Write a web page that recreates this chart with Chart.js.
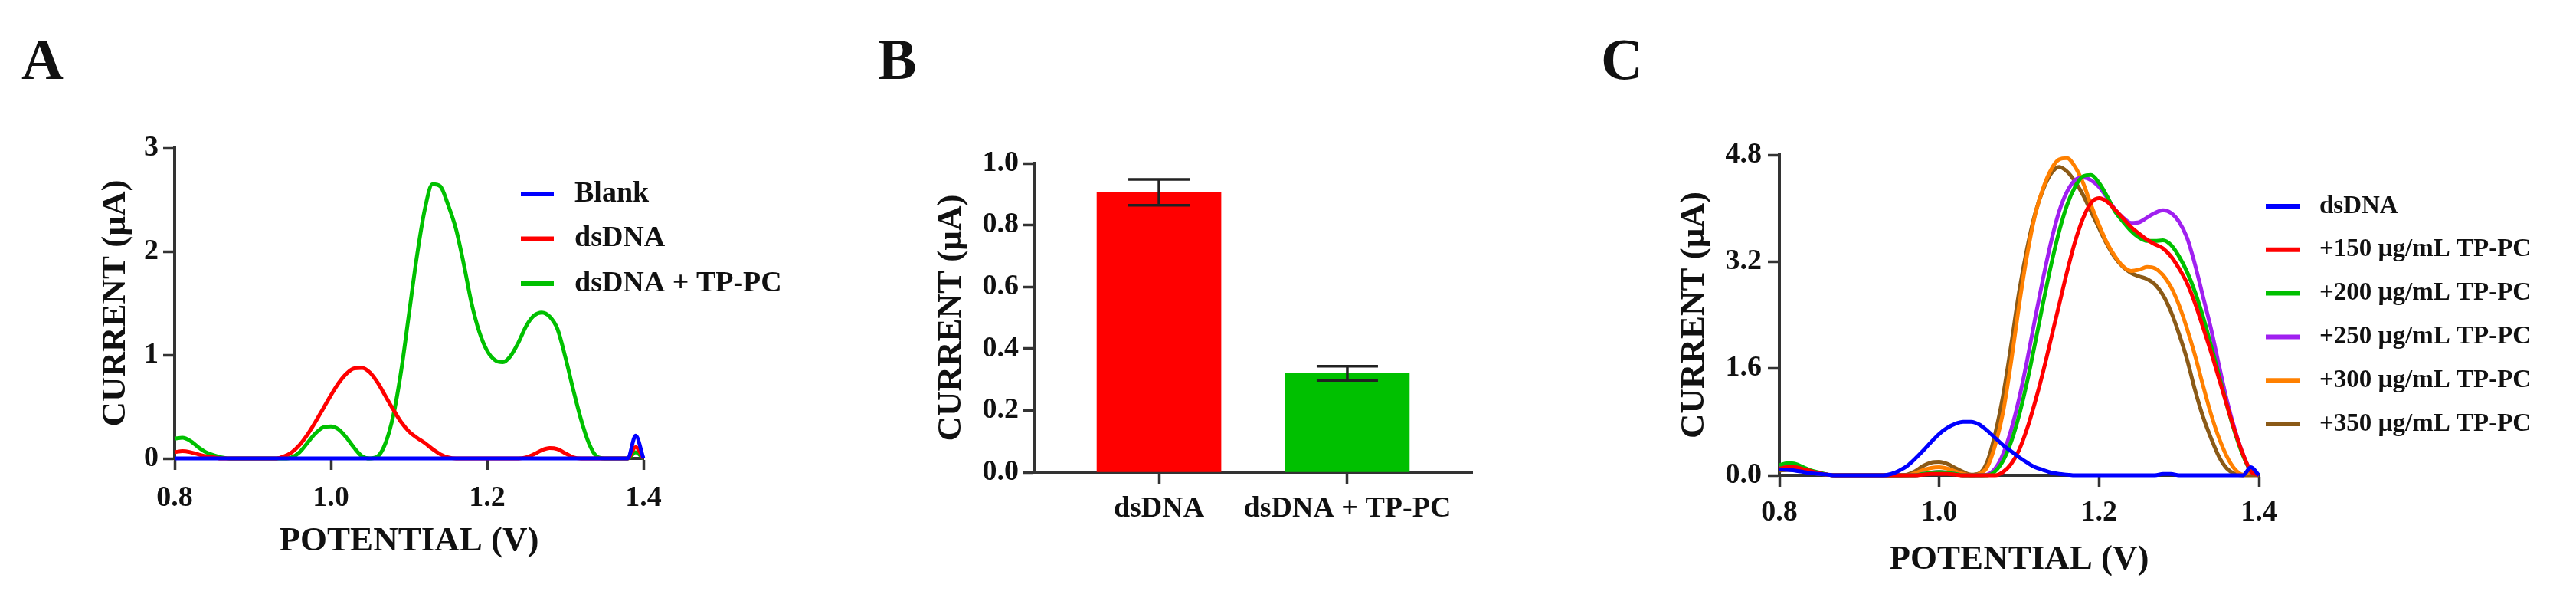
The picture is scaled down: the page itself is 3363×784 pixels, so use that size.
<!DOCTYPE html>
<html>
<head>
<meta charset="utf-8">
<script src="https://cdn.jsdelivr.net/npm/chart.js@4.4.1/dist/chart.umd.min.js"></script>
<style>
  html, body { margin: 0; padding: 0; background: #fff; }
  #wrap { position: relative; width: 3363px; height: 784px; overflow: hidden; background: #fff; }
  #wrap canvas { position: absolute; top: 0; }
  .tag { position: absolute; top: 39px; font: bold 76px/76px "Liberation Serif", "Times New Roman", serif; color: #111; }
</style>
</head>
<body>
<div id="wrap">
  <canvas id="chartA" width="1060" height="784" style="left:0px"></canvas>
  <canvas id="chartB" width="940" height="784" style="left:1060px"></canvas>
  <canvas id="chartC" width="1363" height="784" style="left:2000px"></canvas>
  <div class="tag" style="left:28px">A</div>
  <div class="tag" style="left:1146px">B</div>
  <div class="tag" style="left:2090px">C</div>
</div>
<script>
const SERIF = '"Liberation Serif", "Times New Roman", serif';
const INK = '#111';
const AXIS = '#333';

// potential grid (V), shared by panels A and C
const potential = [
  0.80, 0.81, 0.82, 0.83, 0.84, 0.85, 0.86, 0.87, 0.88, 0.89,
  0.90, 0.91, 0.92, 0.93, 0.94, 0.95, 0.96, 0.97, 0.98, 0.99,
  1.00, 1.01, 1.02, 1.03, 1.04, 1.05, 1.06, 1.07, 1.08, 1.09,
  1.10, 1.11, 1.12, 1.13, 1.14, 1.15, 1.16, 1.17, 1.18, 1.19,
  1.20, 1.21, 1.22, 1.23, 1.24, 1.25, 1.26, 1.27, 1.28, 1.29,
  1.30, 1.31, 1.32, 1.33, 1.34, 1.35, 1.36, 1.37, 1.38, 1.39,
  1.40
];

// panel A - current (uA)
const blankA = [
  0, 0, 0, 0, 0, 0, 0, 0, 0, 0,
  0, 0, 0, 0, 0, 0, 0, 0, 0, 0,
  0, 0, 0, 0, 0, 0, 0, 0, 0, 0,
  0, 0, 0, 0, 0, 0, 0, 0, 0, 0,
  0, 0, 0, 0, 0, 0, 0, 0, 0, 0,
  0, 0, 0, 0, 0, 0, 0, 0, 0, 0.22,
  0
];
const dsdnaA = [
  0.06, 0.07, 0.06, 0.04, 0.02, 0.01, 0, 0, 0, 0,
  0, 0, 0, 0, 0.02, 0.06, 0.13, 0.23, 0.35, 0.48,
  0.61, 0.73, 0.82, 0.87, 0.875, 0.83, 0.73, 0.60, 0.47, 0.35,
  0.26, 0.20, 0.15, 0.09, 0.04, 0.01, 0, 0, 0, 0,
  0, 0, 0, 0, 0, 0.01, 0.04, 0.08, 0.10, 0.09,
  0.05, 0.01, 0, 0, 0, 0, 0, 0, 0, 0.11,
  0
];
const tppcA = [
  0.19, 0.20, 0.17, 0.11, 0.06, 0.03, 0.01, 0, 0, 0,
  0, 0, 0, 0, 0, 0.01, 0.06, 0.15, 0.24, 0.30,
  0.31, 0.28, 0.20, 0.10, 0.02, 0, 0.02, 0.15, 0.42, 0.85,
  1.40, 1.95, 2.40, 2.65, 2.63, 2.45, 2.22, 1.88, 1.50, 1.22,
  1.04, 0.95, 0.93, 0.99, 1.12, 1.28, 1.38, 1.41, 1.37, 1.25,
  0.98, 0.67, 0.38, 0.15, 0.02, 0, 0, 0, 0, 0.06,
  0
];
const xTicksV = [0.8, 1.0, 1.2, 1.4];
const yTicksA = [0, 1, 2, 3];

// panel B - peak current
const barLabels = ['dsDNA', 'dsDNA + TP-PC'];
const barMeans = [0.906, 0.320];
const barErrors = [0.042, 0.023];
const yTicksB = [0, 0.2, 0.4, 0.6, 0.8, 1.0];

// panel C - current (uA)
const dsdnaC = [
  0.09, 0.08, 0.07, 0.05, 0.03, 0.02, 0.01, 0, 0, 0,
  0, 0, 0, 0, 0.02, 0.07, 0.14, 0.25, 0.37, 0.50,
  0.62, 0.71, 0.77, 0.80, 0.80, 0.76, 0.67, 0.56, 0.45, 0.36,
  0.27, 0.19, 0.12, 0.08, 0.04, 0.02, 0.01, 0, 0, 0,
  0, 0, 0, 0, 0, 0, 0, 0, 0.02, 0.02,
  0, 0, 0, 0, 0, 0, 0, 0, 0, 0.12,
  0
];
const tp150C = [
  0.10, 0.12, 0.12, 0.09, 0.06, 0.03, 0.01, 0, 0, 0,
  0, 0, 0, 0, 0, 0, 0, 0, 0.01, 0.02,
  0.02, 0.02, 0.01, 0, 0, 0, 0, 0, 0.05, 0.17,
  0.38, 0.70, 1.10, 1.55, 2.05, 2.55, 3.05, 3.50, 3.85, 4.08,
  4.15, 4.10, 3.98, 3.85, 3.72, 3.62, 3.53, 3.46, 3.40, 3.28,
  3.10, 2.88, 2.58, 2.22, 1.85, 1.45, 1.05, 0.66, 0.32, 0.06,
  0
];
const tp200C = [
  0.15, 0.18, 0.17, 0.12, 0.07, 0.04, 0.01, 0, 0, 0,
  0, 0, 0, 0, 0, 0, 0, 0, 0.02, 0.04,
  0.05, 0.04, 0.02, 0, 0, 0, 0, 0.06, 0.22, 0.50,
  0.90, 1.40, 1.98, 2.58, 3.15, 3.65, 4.05, 4.32, 4.48, 4.50,
  4.38, 4.18, 3.95, 3.80, 3.66, 3.56, 3.51, 3.51, 3.52, 3.45,
  3.28, 3.05, 2.75, 2.38, 1.95, 1.50, 1.05, 0.64, 0.30, 0.06,
  0
];
const tp250C = [
  0.12, 0.14, 0.13, 0.10, 0.06, 0.03, 0.01, 0, 0, 0,
  0, 0, 0, 0, 0, 0, 0, 0, 0.02, 0.04,
  0.05, 0.04, 0.02, 0, 0, 0, 0.01, 0.10, 0.32, 0.68,
  1.15, 1.72, 2.35, 2.95, 3.50, 3.95, 4.25, 4.42, 4.46, 4.42,
  4.32, 4.16, 3.98, 3.86, 3.78, 3.79, 3.86, 3.93, 3.97, 3.93,
  3.80, 3.56, 3.16, 2.68, 2.20, 1.65, 1.12, 0.68, 0.32, 0.06,
  0
];
const tp300C = [
  0.10, 0.11, 0.10, 0.07, 0.04, 0.02, 0.01, 0, 0, 0,
  0, 0, 0, 0, 0, 0, 0, 0.03, 0.08, 0.11,
  0.12, 0.10, 0.06, 0.02, 0, 0.02, 0.12, 0.45, 0.95, 1.70,
  2.55, 3.30, 3.90, 4.30, 4.58, 4.73, 4.75, 4.62, 4.38, 4.05,
  3.75, 3.48, 3.28, 3.13, 3.06, 3.08, 3.12, 3.10, 3.00, 2.82,
  2.55, 2.20, 1.80, 1.35, 0.92, 0.56, 0.28, 0.09, 0.01, 0.05,
  0
];
const tp350C = [
  0.07, 0.08, 0.08, 0.06, 0.04, 0.02, 0.01, 0, 0, 0,
  0, 0, 0, 0, 0, 0, 0.01, 0.06, 0.14, 0.19,
  0.20, 0.17, 0.11, 0.05, 0.01, 0.03, 0.20, 0.62, 1.20, 1.95,
  2.75, 3.40, 3.92, 4.28, 4.52, 4.62, 4.55, 4.40, 4.20, 3.95,
  3.70, 3.46, 3.26, 3.12, 3.03, 2.98, 2.94, 2.86, 2.70, 2.45,
  2.12, 1.74, 1.28, 0.88, 0.56, 0.28, 0.10, 0.02, 0, 0,
  0
];
const yTicksC = [0, 1.6, 3.2, 4.8];

Chart.defaults.font.family = SERIF;
Chart.defaults.color = INK;

function line(label, values, color) {
  return {
    label,
    data: potential.map((p, i) => ({ x: p, y: values[i] })),
    borderColor: color,
    backgroundColor: color,
    borderWidth: 5,
    pointRadius: 0,
    cubicInterpolationMode: 'monotone',
    fill: false,
    clip: false
  };
}

// one axis: fixed ticks, fixed box size, outward tick marks
function axis(o) {
  return {
    type: 'linear',
    min: o.min,
    max: o.max,
    offset: false,
    bounds: 'data',
    border: { display: true, color: AXIS, width: 4 },
    grid: { display: true, offset: false, drawOnChartArea: false, drawTicks: true, tickLength: 15, tickWidth: 3.5, tickColor: AXIS },
    ticks: {
      color: INK,
      font: { size: 38, weight: 'bold' },
      padding: o.pad,
      autoSkip: false,
      maxRotation: 0,
      minRotation: 0,
      callback: o.fmt
    },
    title: o.title
      ? { display: true, text: o.title, color: INK, font: { size: 45, weight: 'bold', lineHeight: 1.2 }, padding: o.titlePad }
      : { display: false },
    afterBuildTicks: s => { s.ticks = o.ticks.map(v => ({ value: v })); },
    afterFit: s => {
      if (s.isHorizontal()) s.height = o.size; else s.width = o.size;
      s.paddingTop = s.paddingBottom = s.paddingLeft = s.paddingRight = 0;
    }
  };
}

const lineLegend = {
  id: 'lineLegend',
  afterDraw(chart, args, opts) {
    const ctx = chart.ctx;
    ctx.save();
    ctx.font = 'bold ' + opts.size + 'px ' + SERIF;
    ctx.textBaseline = 'middle';
    ctx.fillStyle = INK;
    chart.data.datasets.forEach((ds, i) => {
      const y = opts.y + i * opts.gap;
      ctx.strokeStyle = ds.borderColor;
      ctx.lineWidth = 6;
      ctx.beginPath();
      ctx.moveTo(opts.x, y);
      ctx.lineTo(opts.x + opts.len, y);
      ctx.stroke();
      ctx.fillText(ds.label, opts.x + opts.len + opts.textGap, y);
    });
    ctx.restore();
  }
};

const errorBars = {
  id: 'errorBars',
  afterDatasetsDraw(chart, args, opts) {
    const { ctx, scales: { x, y } } = chart;
    ctx.save();
    ctx.strokeStyle = opts.color;
    ctx.lineWidth = opts.width;
    barMeans.forEach((m, i) => {
      const cx = x.getPixelForValue(i);
      const hi = y.getPixelForValue(m + barErrors[i]);
      const lo = y.getPixelForValue(m - barErrors[i]);
      const h = opts.cap / 2;
      ctx.beginPath();
      ctx.moveTo(cx, hi); ctx.lineTo(cx, lo);
      ctx.moveTo(cx - h, hi); ctx.lineTo(cx + h, hi);
      ctx.moveTo(cx - h, lo); ctx.lineTo(cx + h, lo);
      ctx.stroke();
    });
    ctx.restore();
  }
};

const common = {
  responsive: false,
  animation: false,
  devicePixelRatio: 1,
  events: []
};

new Chart(document.getElementById('chartA'), {
  type: 'line',
  data: {
    datasets: [
      line('Blank', blankA, '#0000ff'),
      line('dsDNA', dsdnaA, '#ff0000'),
      line('dsDNA + TP-PC', tppcA, '#00c000')
    ]
  },
  options: {
    ...common,
    layout: { padding: { left: 0, top: 193, right: 220, bottom: 0 } },
    plugins: {
      legend: { display: false },
      tooltip: { enabled: false },
      lineLegend: { x: 680, y: 253, gap: 58.5, len: 43, textGap: 27, size: 38 }
    },
    scales: {
      x: axis({ min: 0.8, max: 1.4, ticks: xTicksV, fmt: v => v.toFixed(1), pad: 14, size: 186,
                title: 'POTENTIAL (V)', titlePad: { top: 0, bottom: 51 } }),
      y: axis({ min: 0, max: 3, ticks: yTicksA, fmt: v => String(v), pad: 6, size: 228,
                title: 'CURRENT (µA)', titlePad: { top: 124, bottom: 0 } })
    }
  },
  plugins: [lineLegend]
});

// panel B: bars sit on a linear index axis so the two groups keep GraphPad's wide side margins
new Chart(document.getElementById('chartB'), {
  type: 'bar',
  data: {
    datasets: [{
      label: 'CURRENT',
      data: barMeans.map((m, i) => ({ x: i, y: m })),
      backgroundColor: ['#ff0000', '#00c000'],
      borderWidth: 0,
      barThickness: 162
    }]
  },
  options: {
    ...common,
    layout: { padding: { left: 0, top: 213, right: 78, bottom: 0 } },
    plugins: {
      legend: { display: false },
      tooltip: { enabled: false },
      errorBars: { color: '#222', width: 3.5, cap: 80 }
    },
    scales: {
      x: axis({ min: -0.663, max: 1.663, ticks: [0, 1], fmt: v => barLabels[v], pad: 10, size: 168 }),
      y: axis({ min: 0, max: 1, ticks: yTicksB, fmt: v => v.toFixed(1), pad: 5, size: 290,
                title: 'CURRENT (µA)', titlePad: { top: 155, bottom: 0 } })
    }
  },
  plugins: [errorBars]
});

new Chart(document.getElementById('chartC'), {
  type: 'line',
  data: {
    datasets: [
      line('dsDNA', dsdnaC, '#0000ff'),
      line('+150 µg/mL TP-PC', tp150C, '#ff0000'),
      line('+200 µg/mL TP-PC', tp200C, '#00c000'),
      line('+250 µg/mL TP-PC', tp250C, '#a020f0'),
      line('+300 µg/mL TP-PC', tp300C, '#ff8000'),
      line('+350 µg/mL TP-PC', tp350C, '#8b5a17')
    ]
  },
  options: {
    ...common,
    layout: { padding: { left: 0, top: 202, right: 414, bottom: 0 } },
    plugins: {
      legend: { display: false },
      tooltip: { enabled: false },
      lineLegend: { x: 958, y: 269, gap: 56.8, len: 45, textGap: 25, size: 33 }
    },
    scales: {
      x: axis({ min: 0.8, max: 1.4, ticks: xTicksV, fmt: v => v.toFixed(1), pad: 11, size: 164,
                title: 'POTENTIAL (V)', titlePad: { top: 0, bottom: 27 } }),
      y: axis({ min: 0, max: 4.8, ticks: yTicksC, fmt: v => v.toFixed(1), pad: 8, size: 323,
                title: 'CURRENT (µA)', titlePad: { top: 185, bottom: 0 } })
    }
  },
  plugins: [lineLegend]
});
</script>
</body>
</html>
